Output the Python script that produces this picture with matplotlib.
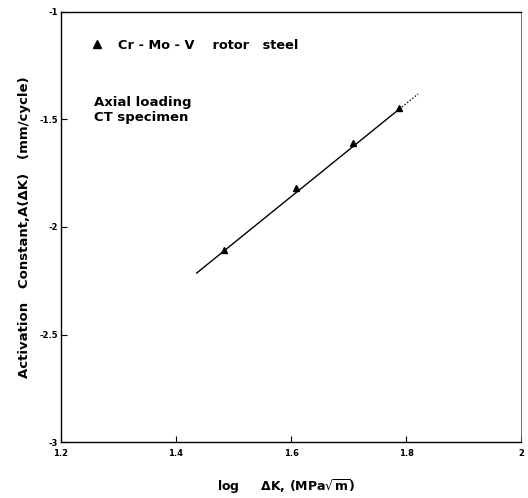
import matplotlib
matplotlib.use("Agg")
import matplotlib.pyplot as plt
from matplotlib.lines import Line2D

# measured points (log dK, activation constant)
log_dk = [1.483, 1.608, 1.707, 1.788]
act_const = [-2.107, -1.819, -1.609, -1.447]

# fitted line, solid part and dotted extension
fit_x = [1.436, 1.788]
fit_y = [-2.214, -1.452]
ext_x = [1.788, 1.821]
ext_y = [-1.452, -1.381]

xticks = [1.2, 1.4, 1.6, 1.8, 2.0]
xtick_labels = ['1.2', '1.4', '1.6', '1.8', '2']
yticks = [-3, -2.5, -2, -1.5, -1]
ytick_labels = ['-3', '-2.5', '-2', '-1.5', '-1']

fig = plt.figure(figsize=(5.28, 4.98), dpi=100)
ax = fig.add_axes([0.1155, 0.1124, 0.8715, 0.8636])

ax.plot(fit_x, fit_y, color='black', lw=1.0)
ax.plot(ext_x, ext_y, color='black', lw=0.8, ls=(0, (1.5, 1.5)))
ax.plot(log_dk, act_const, ls='none', marker='^', ms=5, color='black')

ax.set_xlim(1.2, 2.0)
ax.set_ylim(-3, -1)
ax.set_xticks(xticks)
ax.set_xticklabels(xtick_labels, fontsize=6, fontweight='bold')
ax.set_yticks(yticks)
ax.set_yticklabels(ytick_labels, fontsize=6, fontweight='bold')
ax.tick_params(direction='in', length=4, width=0.8)
ax.tick_params(axis='x', pad=5)
ax.tick_params(axis='y', pad=2)

for s in ['left', 'bottom', 'top']:
    ax.spines[s].set_linewidth(1.0)
ax.spines['right'].set_linewidth(0.6)
ax.spines['right'].set_color('0.35')

ax.set_xlabel('log     \u0394K, (MPa$\\sqrt{\\mathbf{m}}$)', fontsize=9,
              fontweight='bold')
ax.xaxis.set_label_coords(0.49, -0.083)
ax.set_ylabel('Activation   Constant,A(\u0394K)   (mm/cycle)', fontsize=9.5,
              fontweight='bold', labelpad=6)

handle = Line2D([], [], ls='none', marker='^', ms=5.5, color='black')
ax.legend([handle], ['Cr - Mo - V    rotor   steel'], loc='center left',
          bbox_to_anchor=(0.065, 0.923), frameon=False, borderpad=0,
          borderaxespad=0, handlelength=1.0, handletextpad=1.1,
          prop={'size': 9.3, 'weight': 'bold'})

ax.text(0.072, 0.805, 'Axial loading\nCT specimen', transform=ax.transAxes,
        fontsize=9.5, fontweight='bold', va='top', linespacing=1.2)

fig.savefig('out.png', dpi=100)
